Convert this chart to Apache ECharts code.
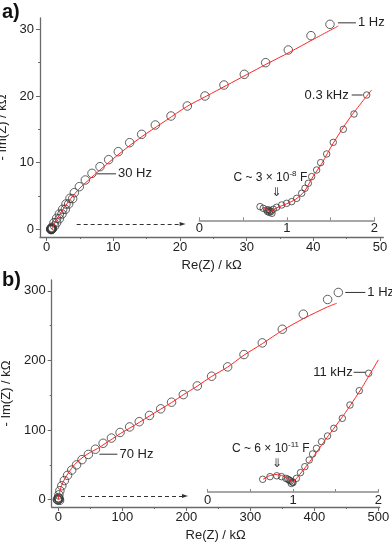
<!DOCTYPE html>
<html><head><meta charset="utf-8">
<script src="https://cdn.jsdelivr.net/npm/echarts@6/dist/echarts.min.js"></script>
<style>html,body{margin:0;padding:0;background:#fff}#c{width:392px;height:544px}</style>
</head><body><div id="c"></div>
<script>
// ---------- Panel a data (kΩ) ----------
const aRe = [42.5, 39.65, 36.25, 32.85, 29.65, 26.6, 23.75, 21.1, 18.65, 16.3, 14.25, 12.45, 10.75, 9.3, 8.0, 6.8, 5.8, 4.9, 4.15, 3.5, 2.9, 2.4, 1.9, 1.5, 1.1, 0.75,
  3.9, 3.3, 2.8, 2.3, 1.9, 1.5, 1.2,
  0.6, 0.65, 0.7, 0.72, 0.78, 0.82, 0.68, 0.75, 0.85, 0.62];
const aIm = [30.75, 29.05, 26.9, 25.0, 23.25, 21.65, 20.0, 18.5, 17.0, 15.65, 14.25, 13.0, 11.65, 10.45, 9.4, 8.4, 7.4, 6.4, 5.5, 4.65, 3.8, 3.0, 2.3, 1.65, 1.0, 0.3,
  4.6, 3.8, 3.0, 2.3, 1.6, 1.0, 0.5,
  0.0, 0.05, 0.02, 0.1, 0.06, 0.15, -0.05, 0.0, 0.08, 0.08];
const aFitRe = [0.8, 1.2, 1.8, 2.6, 3.6, 4.8, 6.3, 8.0, 10.0, 12.5, 15.0, 18.0, 21.0, 24.0, 27.0, 30.0, 33.0, 36.5, 40.0, 43.75];
const aFitIm = [0.0, 0.9, 2.0, 3.2, 4.6, 6.0, 7.4, 8.9, 10.6, 12.6, 14.4, 16.4, 18.4, 20.0, 21.6, 23.2, 24.8, 26.6, 28.5, 30.5];
const aInRe = [0.694, 0.731, 0.770, 0.808, 0.846, 0.884, 0.941, 0.998, 1.056, 1.113, 1.170, 1.208, 1.246, 1.284, 1.341, 1.387, 1.456, 1.531, 1.646, 1.768, 1.913,
  0.78, 0.80, 0.82, 0.79, 0.83];
const aInIm = [0.156, 0.137, 0.118, 0.110, 0.126, 0.149, 0.175, 0.194, 0.213, 0.251, 0.309, 0.366, 0.423, 0.499, 0.575, 0.659, 0.758, 0.891, 1.040, 1.215, 1.432,
  0.10, 0.09, 0.10, 0.12, 0.08];
const aInFitRe = [0.72, 0.78, 0.81, 0.88, 1.0, 1.1, 1.2, 1.3, 1.4, 1.53, 1.72, 1.97];
const aInFitIm = [0.15, 0.12, 0.10, 0.14, 0.19, 0.24, 0.33, 0.50, 0.65, 0.88, 1.17, 1.49];

// ---------- Panel b data (kΩ) ----------
const bRe = [437.5, 420.8, 382.8, 350, 318.75, 290.1, 264.6, 239.6, 217.2, 195.3, 177, 160, 142.5, 126.5, 111.5, 96.5, 83, 70, 58, 47, 37, 28.5, 21, 14.5, 9.5, 5.5, 2.5, 1.0, 0.2,
  0, 1.5, -1.5, 2, 0.5, -1];
const bIm = [297.6, 287.5, 266.4, 244.8, 225.2, 208.4, 190.7, 177.3, 163.4, 150.9, 140, 130.5, 121, 112, 104.5, 96.5, 88.5, 81, 72.5, 65, 57.5, 50, 42.5, 35, 27.5, 20, 13, 7, 3,
  0, 1, 0.5, -1, 2, -0.5];
const bFitRe = [0, 2, 5, 10, 17, 25, 37, 50, 61.5, 73, 85, 97, 112, 126.6, 142, 160, 177, 195, 217, 239.6, 264.6, 290, 318.75, 350, 383, 421, 435];
const bFitIm = [0, 10, 20, 30, 40, 50, 60, 68, 73.5, 80.5, 87.7, 95, 103, 111, 120, 130, 139.5, 150.5, 163, 177, 190.5, 207.5, 224, 243, 260, 277, 282];
const bInRe = [0.645, 0.73, 0.81, 0.865, 0.916, 0.955, 0.994, 1.04, 1.088, 1.139, 1.19, 1.23, 1.276, 1.335, 1.405, 1.479, 1.578, 1.668, 1.777, 1.887,
  0.94, 0.97, 1.0, 0.98];
const bInIm = [0.149, 0.18, 0.19, 0.18, 0.16, 0.14, 0.12, 0.16, 0.227, 0.297, 0.375, 0.446, 0.512, 0.59, 0.657, 0.747, 0.864, 1.02, 1.188, 1.392,
  0.15, 0.13, 0.11, 0.10];
const bInFitRe = [0.65, 0.72, 0.8, 0.88, 0.95, 1.0, 1.05, 1.2, 1.4, 1.6, 1.8, 2.0];
const bInFitIm = [0.15, 0.19, 0.205, 0.19, 0.15, 0.12, 0.17, 0.36, 0.64, 0.91, 1.21, 1.55];

// ---------- tick labels ----------
const aXTicks = [0, 10, 20, 30, 40, 50];
const aXMinor = [5, 15, 25, 35, 45];
const aYTicks = [0, 10, 20, 30];
const aYMinor = [5, 15, 25];
const bXTicks = [0, 100, 200, 300, 400, 500];
const bXMinor = [50, 150, 250, 350, 450];
const bYTicks = [0, 100, 200, 300];
const bYMinor = [50, 150, 250];
const inTicks = [0, 1, 2];
const inMinor = [0, 0.5, 1, 1.5, 2];

const zip = (xs, ys) => xs.map((x, i) => [x, ys[i]]);
const FONT = 'Liberation Sans, Arial, sans-serif';
const AXC = '#6a6a6a', TXT = '#222', RED = '#ff2424', CIRC = '#3a3a3a';

function mainX(grid, min, max, ticks, minor, name) {
  return [
    { gridIndex: grid, type: 'value', position: 'bottom', min, max,
      axisLine: { onZero: false, lineStyle: { color: AXC, width: 1.3 } },
      axisTick: { customValues: ticks, length: 4, lineStyle: { color: AXC } },
      axisLabel: { customValues: ticks, fontSize: 13, color: TXT, fontFamily: FONT, margin: 4 },
      splitLine: { show: false },
      name, nameLocation: 'middle', nameGap: 22,
      nameTextStyle: { fontSize: 13, color: TXT, fontFamily: FONT } },
    { gridIndex: grid, type: 'value', position: 'bottom', min, max,
      axisLine: { show: false, onZero: false },
      axisTick: { customValues: minor, length: 2, lineStyle: { color: AXC } },
      axisLabel: { show: false }, splitLine: { show: false } }
  ];
}
function mainY(grid, min, max, ticks, minor, name, gap) {
  return [
    { gridIndex: grid, type: 'value', position: 'left', min, max,
      axisLine: { onZero: false, lineStyle: { color: AXC, width: 1.3 } },
      axisTick: { customValues: ticks, length: 4, lineStyle: { color: AXC } },
      axisLabel: { customValues: ticks, fontSize: 13, color: TXT, fontFamily: FONT, margin: 6 },
      splitLine: { show: false },
      name, nameLocation: 'middle', nameGap: gap, nameRotate: 90,
      nameTextStyle: { fontSize: 13, color: TXT, fontFamily: FONT } },
    { gridIndex: grid, type: 'value', position: 'left', min, max,
      axisLine: { show: false, onZero: false },
      axisTick: { customValues: minor, length: 2, lineStyle: { color: AXC } },
      axisLabel: { show: false }, splitLine: { show: false } }
  ];
}
function insetX(grid) {
  return { gridIndex: grid, type: 'value', position: 'bottom', min: 0, max: 2,
    axisLine: { onZero: false, lineStyle: { color: '#8a8a8a', width: 1.6 } },
    axisTick: { customValues: inMinor, inside: true, length: 3, lineStyle: { color: '#8a8a8a' } },
    axisLabel: { customValues: inTicks, fontSize: 13, color: TXT, fontFamily: FONT, margin: 2 },
    splitLine: { show: false } };
}
function insetY(grid) {
  return { gridIndex: grid, type: 'value', min: 0, max: 1.8, show: false };
}
const scatterStyle = (size) => ({ symbol: 'circle', symbolSize: size,
  itemStyle: { color: 'rgba(0,0,0,0)', borderColor: CIRC, borderWidth: 1 } });
const fitStyle = { showSymbol: false, symbol: 'none', lineStyle: { color: RED, width: 1 }, z: 3 };

const dashArrow = (x0, x1, y) => ({
  silent: true, symbol: ['none', 'triangle'], symbolSize: [4, 6], symbolRotate: [0, -90],
  itemStyle: { color: '#222' },
  lineStyle: { color: '#333', type: [4, 3], width: 1 }, label: { show: false },
  data: [[{ coord: [x0, y] }, { coord: [x1, y] }]]
});

const chart = echarts.init(document.getElementById('c'), null, { renderer: 'canvas' });
const xA = mainX(0, -1, 50.5, aXTicks, aXMinor, 'Re(Z) / kΩ');
const xB = mainX(1, -10.3, 502, bXTicks, bXMinor, 'Re(Z) / kΩ');
const yA = mainY(0, -1.15, 31.7, aYTicks, aYMinor, '- Im(Z) / kΩ', 25);
const yB = mainY(1, -10.5, 315.5, bYTicks, bYMinor, '- Im(Z) / kΩ', 34);

chart.setOption({
  animation: false,
  backgroundColor: '#fff',
  grid: [
    { left: 40, top: 18, width: 343.3, height: 219, containLabel: false, outerBoundsMode: 'none' },
    { left: 51.7, top: 280, width: 327.9, height: 227, containLabel: false, outerBoundsMode: 'none' },
    { left: 199.3, top: 62.8, width: 175, height: 157.5, containLabel: false, outerBoundsMode: 'none' },
    { left: 207.7, top: 338.5, width: 170.6, height: 153.5, containLabel: false, outerBoundsMode: 'none' }
  ],
  xAxis: [xA[0], xA[1], xB[0], xB[1], insetX(2), insetX(3)],
  yAxis: [yA[0], yA[1], yB[0], yB[1], insetY(2), insetY(3)],
  series: [
    Object.assign({ type: 'line', xAxisIndex: 0, yAxisIndex: 0, data: zip(aFitRe, aFitIm), smooth: 0.3,
      markLine: dashArrow(4.5, 20.4, 0.8) }, fitStyle),
    Object.assign({ type: 'scatter', xAxisIndex: 0, yAxisIndex: 0, data: zip(aRe, aIm) }, scatterStyle(8.5)),
    Object.assign({ type: 'line', xAxisIndex: 4, yAxisIndex: 4, data: zip(aInFitRe, aInFitIm), smooth: 0.3 }, fitStyle),
    Object.assign({ type: 'scatter', xAxisIndex: 4, yAxisIndex: 4, data: zip(aInRe, aInIm) }, scatterStyle(6.5)),
    Object.assign({ type: 'line', xAxisIndex: 2, yAxisIndex: 2, data: zip(bFitRe, bFitIm), smooth: 0.3,
      markLine: dashArrow(35.5, 198, 5.3) }, fitStyle),
    Object.assign({ type: 'scatter', xAxisIndex: 2, yAxisIndex: 2, data: zip(bRe, bIm) }, scatterStyle(8.5)),
    Object.assign({ type: 'line', xAxisIndex: 5, yAxisIndex: 5, data: zip(bInFitRe, bInFitIm), smooth: 0.15 }, fitStyle),
    Object.assign({ type: 'scatter', xAxisIndex: 5, yAxisIndex: 5, data: zip(bInRe, bInIm) }, scatterStyle(6.5))
  ]
});

// ---------- annotations anchored to data points ----------
function px(xi, yi, pt) { return chart.convertToPixel({ xAxisIndex: xi, yAxisIndex: yi }, pt); }
const g = [];
function leader(p, dx0, dx1, dy, text, tdx, align) {
  g.push({ type: 'line', shape: { x1: p[0] + dx0, y1: p[1] + dy, x2: p[0] + dx1, y2: p[1] + dy },
    style: { stroke: '#333', lineWidth: 1 }, z: 10 });
  g.push({ type: 'text', x: p[0] + tdx, y: p[1] + dy, z: 10,
    style: { text, fontSize: 13, fontFamily: FONT, fill: TXT, align, verticalAlign: 'middle' } });
}
function capNote(p, dx, dy, base, exp) {
  g.push({ type: 'text', x: p[0] + dx, y: p[1] + dy, z: 10,
    style: { text: '{n|' + base + '}{s|' + exp + '}{n| F}', align: 'center', verticalAlign: 'middle',
      rich: { n: { fontSize: 12, fontFamily: FONT, fill: TXT, lineHeight: 14, verticalAlign: 'bottom' },
              s: { fontSize: 8, fontFamily: FONT, fill: TXT, lineHeight: 14, verticalAlign: 'top', padding: [0, 0, 5, 0] } } } });
  g.push({ type: 'text', x: p[0], y: p[1] + dy + 16, z: 10,
    style: { text: '⇓', fontSize: 12, fontFamily: 'DejaVu Sans', fill: '#333', align: 'center', verticalAlign: 'middle' } });
}
// panel a
leader(px(0, 0, [aRe[0], aIm[0]]), 8, 26, -1.5, '1 Hz', 28, 'left');
leader(px(0, 0, [aRe[15], aIm[15]]), 5, 24, 0.5, '30 Hz', 26, 'left');
leader(px(4, 4, [aInRe[20], aInIm[20]]), -15, -4, 0, '0.3 kHz', -18, 'right');
capNote(px(4, 4, [0.88, 0.15]), -6, -30, 'C ~ 3 × 10', '-8');
// panel b
leader(px(2, 2, [bRe[0], bIm[0]]), 7, 27, 0, '1 Hz', 29, 'left');
leader(px(2, 2, [bRe[18], bIm[18]]), 4, 22, 5, '70 Hz', 24, 'left');
leader(px(5, 5, [bInRe[19], bInIm[19]]), -15, -3, -1, '11 kHz', -16, 'right');
capNote(px(5, 5, [0.81, 0.19]), -6, -28, 'C ~ 6 × 10', '-11');
// panel letters
g.push({ type: 'text', x: 2, y: 2, style: { text: 'a)', fontSize: 20, fontWeight: 'bold', fontFamily: FONT, fill: '#111' } });
g.push({ type: 'text', x: 2, y: 270, style: { text: 'b)', fontSize: 20, fontWeight: 'bold', fontFamily: FONT, fill: '#111' } });
chart.setOption({ graphic: g });
</script>
</body></html>
